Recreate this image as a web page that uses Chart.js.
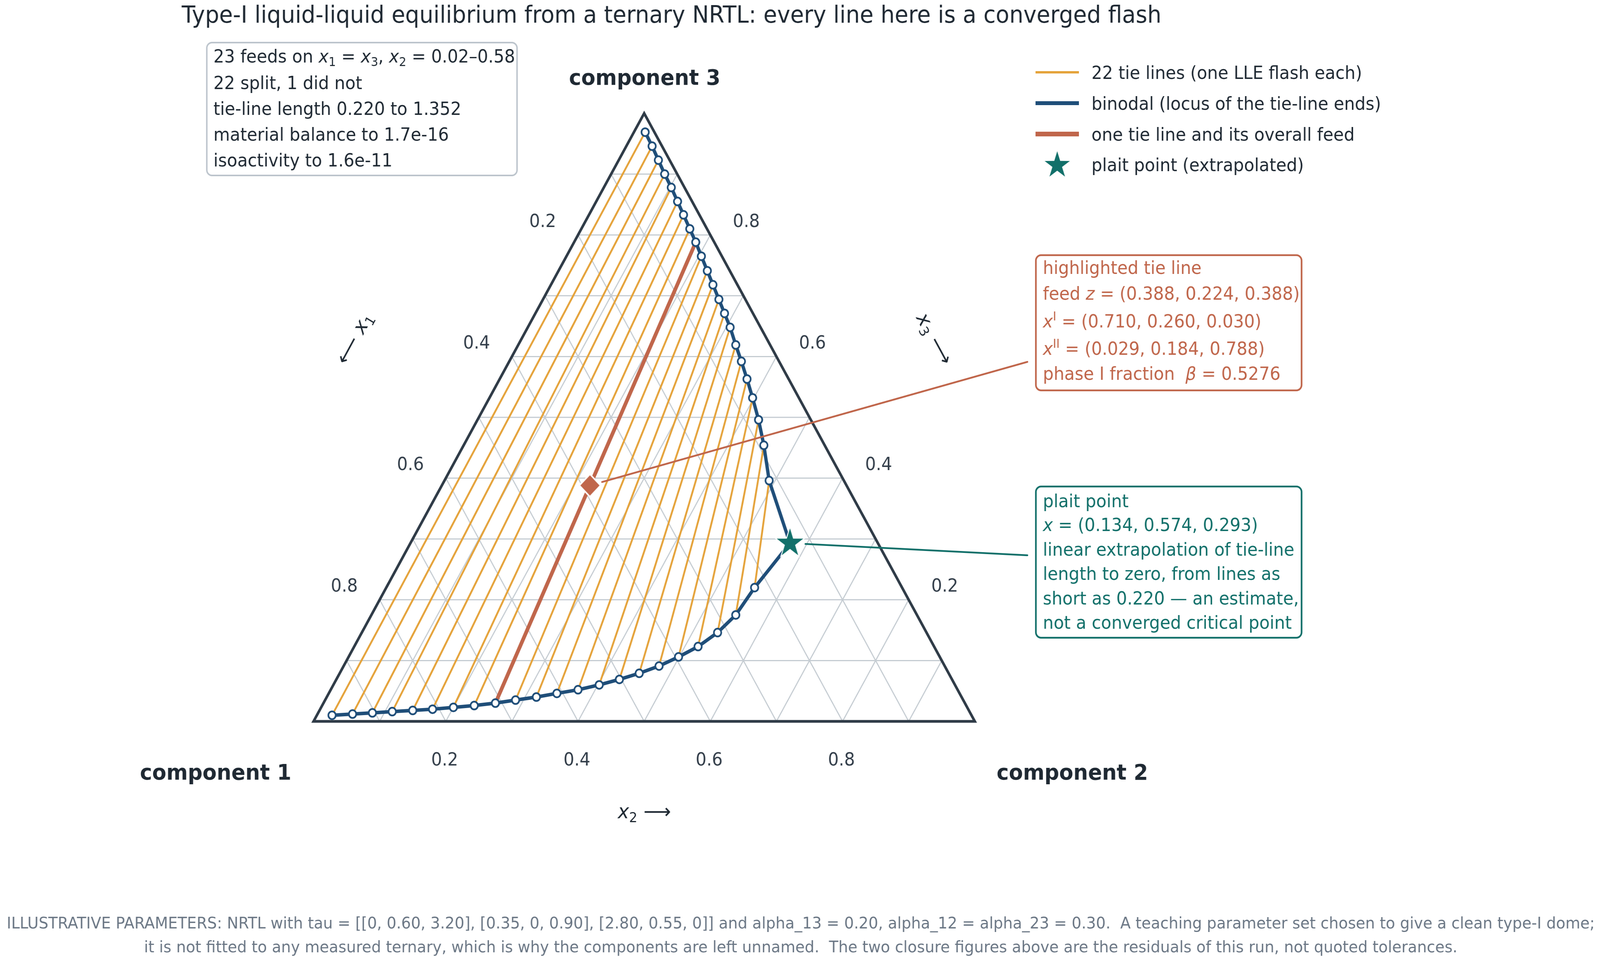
<!DOCTYPE html>
<html>
<head>
<meta charset="utf-8">
<script src="https://cdn.jsdelivr.net/npm/chart.js@4.4.0/dist/chart.umd.min.js"></script>
<style>
  html, body { margin: 0; padding: 0; background: #ffffff; overflow: hidden; }
  canvas { display: block; }
</style>
</head>
<body>
<canvas id="ternary" width="4348" height="2449" style="width:100vw;height:100vh"></canvas>
<script>
// phase I end of each tie line (x1, x2, x3), lower branch of the binodal
const phaseI = [
  [0.967, 0.023, 0.010], [0.935, 0.053, 0.012], [0.904, 0.082, 0.014],
  [0.873, 0.111, 0.016], [0.841, 0.141, 0.018], [0.810, 0.170, 0.020],
  [0.777, 0.200, 0.023], [0.744, 0.230, 0.026], [0.710, 0.260, 0.030],
  [0.677, 0.288, 0.035], [0.643, 0.317, 0.040], [0.609, 0.345, 0.046],
  [0.574, 0.374, 0.052], [0.538, 0.402, 0.060], [0.503, 0.428, 0.069],
  [0.468, 0.453, 0.079], [0.432, 0.477, 0.091], [0.395, 0.499, 0.106],
  [0.357, 0.520, 0.123], [0.316, 0.538, 0.146], [0.274, 0.551, 0.175],
  [0.223, 0.557, 0.220]
];
// phase II end of the same tie lines, upper branch
const phaseII = [
  [0.014, 0.017, 0.969], [0.015, 0.039, 0.946], [0.017, 0.060, 0.923],
  [0.019, 0.081, 0.900], [0.020, 0.102, 0.878], [0.022, 0.123, 0.855],
  [0.024, 0.143, 0.833], [0.026, 0.164, 0.810], [0.029, 0.184, 0.788],
  [0.031, 0.204, 0.765], [0.034, 0.225, 0.741], [0.037, 0.245, 0.718],
  [0.040, 0.266, 0.694], [0.043, 0.286, 0.671], [0.046, 0.306, 0.648],
  [0.052, 0.329, 0.619], [0.057, 0.351, 0.592], [0.063, 0.374, 0.563],
  [0.070, 0.398, 0.532], [0.079, 0.425, 0.496], [0.092, 0.454, 0.454],
  [0.113, 0.491, 0.396]
];
const highlightIndex = 8;
const highlightFeed = [0.388, 0.224, 0.388];
const highlightBeta = 0.5276;
const plaitPoint = [0.134, 0.574, 0.293];
const feedCount = 23;
const gridTicks = [0.1, 0.2, 0.3, 0.4, 0.5, 0.6, 0.7, 0.8, 0.9];
const labelTicks = [0.2, 0.4, 0.6, 0.8];
const vertexNames = ["component 1", "component 2", "component 3"];

const ORANGE = "#E5A33B", BLUE = "#1F4E79", RED = "#C0664B", TEAL = "#12706A";
const EDGE = "#2F3B47", GRID = "#C5CCD2", INK = "#1F2933", MUTED = "#6B7785";
const FAMILY = '"DejaVu Sans", sans-serif';
const TXT = 46;

const H = Math.sqrt(3) / 2;
function tern(p) { return { x: p[1] + p[2] / 2, y: p[2] * H }; }
function f3(v) { return v.toFixed(3); }

// marker images
function makeStar(R, fill, edge, lw) {
  var c = document.createElement("canvas");
  c.width = c.height = Math.ceil(2 * R + 2 * lw + 4);
  var g = c.getContext("2d"), m = c.width / 2;
  g.beginPath();
  for (var k = 0; k < 10; k++) {
    var r = k % 2 ? R * 0.382 : R, a = -Math.PI / 2 + k * Math.PI / 5;
    g.lineTo(m + r * Math.cos(a), m + r * Math.sin(a));
  }
  g.closePath();
  g.fillStyle = fill; g.fill();
  if (lw) { g.lineWidth = lw; g.strokeStyle = edge; g.lineJoin = "miter"; g.stroke(); g.fill(); }
  return c;
}
function makeDiamond(r, fill, edge, lw) {
  var c = document.createElement("canvas");
  c.width = c.height = Math.ceil(2 * r + 2 * lw + 4);
  var g = c.getContext("2d"), m = c.width / 2;
  g.beginPath();
  g.moveTo(m, m - r); g.lineTo(m + r, m); g.lineTo(m, m + r); g.lineTo(m - r, m);
  g.closePath();
  g.lineWidth = lw * 2; g.strokeStyle = edge; g.lineJoin = "miter"; g.stroke();
  g.fillStyle = fill; g.fill();
  return c;
}
const starImg = makeStar(38, TEAL, "#ffffff", 5);
const legendStar = makeStar(36, TEAL, null, 0);
const diamondImg = makeDiamond(26, RED, "#ffffff", 4);

// rich text: parts are [text, kind] with kind "", "i", "b", "sub", "sup"
function fontFor(size, kind) {
  var s = (kind === "sub" || kind === "sup") ? size * 0.68 : size;
  return (kind === "i" ? "italic " : "") + (kind === "b" ? "bold " : "") + s + "px " + FAMILY;
}
function drawRich(ctx, parts, x, yc, size, color, align) {
  var w = 0;
  parts.forEach(function (p) { ctx.font = fontFor(size, p[1]); w += ctx.measureText(p[0]).width; });
  var cx = align === "center" ? x - w / 2 : x;
  var base = yc + size * 0.36;
  ctx.fillStyle = color; ctx.textAlign = "left"; ctx.textBaseline = "alphabetic";
  parts.forEach(function (p) {
    var dy = p[1] === "sub" ? size * 0.2 : (p[1] === "sup" ? -size * 0.38 : 0);
    ctx.font = fontFor(size, p[1]);
    ctx.fillText(p[0], cx, base + dy);
    cx += ctx.measureText(p[0]).width;
  });
}
function roundBox(ctx, x0, y0, x1, y1, r, stroke, lw) {
  ctx.beginPath();
  ctx.roundRect(x0, y0, x1 - x0, y1 - y0, r);
  ctx.fillStyle = "#ffffff"; ctx.fill();
  ctx.lineWidth = lw; ctx.strokeStyle = stroke; ctx.stroke();
}

var decor = {
  id: "ternaryDecor",
  beforeDatasetsDraw: function (chart) {
    var ctx = chart.ctx, xs = chart.scales.x, ys = chart.scales.y;
    function px(p) { var t = tern(p); return [xs.getPixelForValue(t.x), ys.getPixelForValue(t.y)]; }
    function seg(a, b) { var A = px(a), B = px(b); ctx.moveTo(A[0], A[1]); ctx.lineTo(B[0], B[1]); }
    ctx.save();
    ctx.strokeStyle = GRID; ctx.lineWidth = 3;
    ctx.beginPath();
    gridTicks.forEach(function (v) {
      seg([1 - v, 0, v], [0, 1 - v, v]);
      seg([1 - v, v, 0], [0, v, 1 - v]);
      seg([v, 1 - v, 0], [v, 0, 1 - v]);
    });
    ctx.stroke();
    ctx.strokeStyle = EDGE; ctx.lineWidth = 7; ctx.lineJoin = "miter";
    var a = px([1, 0, 0]), b = px([0, 1, 0]), c = px([0, 0, 1]);
    ctx.beginPath(); ctx.moveTo(a[0], a[1]); ctx.lineTo(b[0], b[1]); ctx.lineTo(c[0], c[1]); ctx.closePath(); ctx.stroke();
    ctx.restore();
  },
  afterDraw: function (chart) {
    var ctx = chart.ctx, xs = chart.scales.x, ys = chart.scales.y;
    function px(p) { var t = tern(p); return [xs.getPixelForValue(t.x), ys.getPixelForValue(t.y)]; }
    ctx.save();

    // tick labels on the three edges
    labelTicks.forEach(function (v) {
      var s = v.toFixed(1), p;
      p = px([1 - v, v, 0]); drawRich(ctx, [[s, ""]], p[0] - 3, p[1] + 96, TXT, "#333E4A", "center");
      p = px([v, 0, 1 - v]); drawRich(ctx, [[s, ""]], p[0] - 96, p[1] - 37, TXT, "#333E4A", "center");
      p = px([0, 1 - v, v]); drawRich(ctx, [[s, ""]], p[0] + 98, p[1] - 37, TXT, "#333E4A", "center");
    });

    // axis titles
    drawRich(ctx, [["x", "i"], ["2", "sub"], [" \u27F6", ""]], 1751, 2075, 52, INK, "center");
    ctx.save(); ctx.translate(961, 865); ctx.rotate(-Math.PI / 3);
    drawRich(ctx, [["\u27F5 ", ""], ["x", "i"], ["1", "sub"]], 0, 0, 52, INK, "center");
    ctx.restore();
    ctx.save(); ctx.translate(2541, 866); ctx.rotate(Math.PI / 3);
    drawRich(ctx, [["x", "i"], ["3", "sub"], [" \u27F6", ""]], 0, 0, 52, INK, "center");
    ctx.restore();

    // vertex names
    drawRich(ctx, [[vertexNames[0], "b"]], 586, 1975, 56, INK, "center");
    drawRich(ctx, [[vertexNames[1], "b"]], 2914, 1975, 56, INK, "center");
    drawRich(ctx, [[vertexNames[2], "b"]], 1752, 197, 56, INK, "center");

    // title
    drawRich(ctx, [["Type-I liquid-liquid equilibrium from a ternary NRTL: every line here is a converged flash", ""]], 1825, 36, 60.5, INK, "center");

    // run summary box
    roundBox(ctx, 562, 109, 1405, 449, 14, "#BCC4CC", 4);
    var summary = [
      [[feedCount + " feeds on ", ""], ["x", "i"], ["1", "sub"], [" = ", ""], ["x", "i"], ["3", "sub"], [", ", ""], ["x", "i"], ["2", "sub"], [" = 0.02\u20130.58", ""]],
      [[phaseI.length + " split, " + (feedCount - phaseI.length) + " did not", ""]],
      [["tie-line length 0.220 to 1.352", ""]],
      [["material balance to 1.7e-16", ""]],
      [["isoactivity to 1.6e-11", ""]]
    ];
    [143, 211, 277, 343, 409].forEach(function (y, i) { drawRich(ctx, summary[i], 580, y, TXT, INK, "left"); });

    // legend
    var leg = [
      { label: phaseI.length + " tie lines (one LLE flash each)", color: ORANGE, w: 6, y: 185 },
      { label: "binodal (locus of the tie-line ends)", color: BLUE, w: 10, y: 264 },
      { label: "one tie line and its overall feed", color: RED, w: 12, y: 343 },
      { label: "plait point (extrapolated)", star: true, y: 421 }
    ];
    leg.forEach(function (it) {
      if (it.star) {
        ctx.drawImage(legendStar, 2873 - legendStar.width / 2, it.y - legendStar.height / 2 + 2);
      } else {
        ctx.beginPath(); ctx.moveTo(2814, it.y); ctx.lineTo(2932, it.y);
        ctx.strokeStyle = it.color; ctx.lineWidth = it.w; ctx.lineCap = "butt"; ctx.stroke();
      }
      drawRich(ctx, [[it.label, ""]], 2966, it.y, TXT, INK, "left");
    });

    // connectors from the marks to their notes
    function connector(p, ax, ay, gap, color) {
      var A = px(p), dx = ax - A[0], dy = ay - A[1], L = Math.hypot(dx, dy);
      ctx.beginPath(); ctx.moveTo(A[0] + dx / L * gap, A[1] + dy / L * gap); ctx.lineTo(ax, ay);
      ctx.strokeStyle = color; ctx.lineWidth = 4.5; ctx.lineCap = "round"; ctx.stroke();
    }
    connector(highlightFeed, 2792, 926, 34, RED);
    connector(plaitPoint, 2792, 1421, 42, TEAL);

    // highlighted tie line note
    var pI = phaseI[highlightIndex], pII = phaseII[highlightIndex];
    roundBox(ctx, 2815, 653, 3537, 999, 14, RED, 4.5);
    var hl = [
      [["highlighted tie line", ""]],
      [["feed ", ""], ["z", "i"], [" = (" + highlightFeed.map(f3).join(", ") + ")", ""]],
      [["x", "i"], ["I", "sup"], [" = (" + pI.map(f3).join(", ") + ")", ""]],
      [["x", "i"], ["II", "sup"], [" = (" + pII.map(f3).join(", ") + ")", ""]],
      [["phase I fraction  ", ""], ["\u03B2", "i"], [" = " + highlightBeta.toFixed(4), ""]]
    ];
    [684, 750, 821, 891, 955].forEach(function (y, i) { drawRich(ctx, hl[i], 2834, y, TXT, RED, "left"); });

    // plait point note
    roundBox(ctx, 2815, 1245, 3537, 1632, 14, TEAL, 4.5);
    var pl = [
      [["plait point", ""]],
      [["x", "i"], [" = (" + plaitPoint.map(f3).join(", ") + ")", ""]],
      [["linear extrapolation of tie-line", ""]],
      [["length to zero, from lines as", ""]],
      [["short as 0.220 \u2014 an estimate,", ""]],
      [["not a converged critical point", ""]]
    ];
    [1281, 1342, 1405, 1467, 1530, 1592].forEach(function (y, i) { drawRich(ctx, pl[i], 2834, y, TXT, TEAL, "left"); });

    // footer
    drawRich(ctx, [["ILLUSTRATIVE PARAMETERS: NRTL with tau = [[0, 0.60, 3.20], [0.35, 0, 0.90], [2.80, 0.55, 0]] and alpha_13 = 0.20, alpha_12 = alpha_23 = 0.30.  A teaching parameter set chosen to give a clean type-I dome;", ""]], 2176, 2361, 41.5, MUTED, "center");
    drawRich(ctx, [["it is not fitted to any measured ternary, which is why the components are left unnamed.  The two closure figures above are the residuals of this run, not quoted tolerances.", ""]], 2176, 2422, 41.5, MUTED, "center");
    ctx.restore();
  }
};

var datasets = [];
// plait point and highlighted feed on top
datasets.push({ data: [tern(plaitPoint)], pointStyle: starImg, pointRadius: 30, order: 0 });
datasets.push({ data: [tern(highlightFeed)], pointStyle: diamondImg, pointRadius: 24, order: 1 });
// binodal: phase I branch, plait point, phase II branch back up
var binodal = phaseI.map(tern).concat([tern(plaitPoint)]).concat(phaseII.slice().reverse().map(tern));
datasets.push({
  data: binodal, showLine: true, borderColor: BLUE, borderWidth: 9,
  pointRadius: function (c) { return c.dataIndex === phaseI.length ? 0 : 10; },
  pointBackgroundColor: "#ffffff", pointBorderColor: BLUE, pointBorderWidth: 4.5, order: 2
});
datasets.push({
  data: [tern(phaseI[highlightIndex]), tern(phaseII[highlightIndex])], showLine: true,
  borderColor: RED, borderWidth: 10, borderCapStyle: "butt", pointRadius: 0, order: 3
});
phaseI.forEach(function (a, i) {
  datasets.push({
    data: [tern(a), tern(phaseII[i])], showLine: true,
    borderColor: ORANGE, borderWidth: 5, pointRadius: 0, order: 4
  });
});

new Chart(document.getElementById("ternary").getContext("2d"), {
  type: "scatter",
  data: { datasets: datasets },
  options: {
    responsive: false,
    devicePixelRatio: 1,
    animation: false,
    events: [],
    layout: { padding: { left: 852, right: 1699, top: 290, bottom: 603 } },
    scales: {
      x: { type: "linear", min: 0, max: 1, display: false },
      y: { type: "linear", min: 0, max: H, display: false }
    },
    plugins: { legend: { display: false }, tooltip: { enabled: false } },
    elements: { line: { tension: 0 } }
  },
  plugins: [decor]
});
</script>
</body>
</html>
